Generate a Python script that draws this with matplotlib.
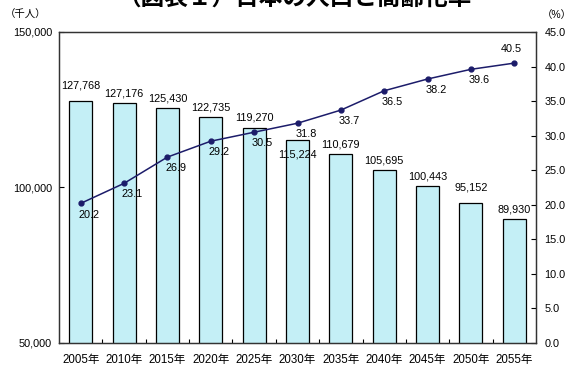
import matplotlib
matplotlib.use("Agg")
import matplotlib.pyplot as plt
import numpy as np
from matplotlib.ticker import FuncFormatter, FixedLocator

plt.rcParams['font.family'] = ['Liberation Sans', 'Noto Sans CJK JP', 'DejaVu Sans']

years = ["2005年", "2010年", "2015年", "2020年", "2025年", "2030年",
         "2035年", "2040年", "2045年", "2050年", "2055年"]
population = [127768, 127176, 125430, 122735, 119270, 115224,
              110679, 105695, 100443, 95152, 89930]
aging_rate = [20.2, 23.1, 26.9, 29.2, 30.5, 31.8, 33.7, 36.5, 38.2, 39.6, 40.5]

title = "（図表１）日本の人口と高齢化率"
left_unit = "（千人）"
right_unit = "（%）"

# label offsets (points) - styling only
bar_label_dy = [11, 7, 7, 7, 7, -10, 7, 7, 7, 11, 7]
line_label_off = [(6, -8)] * 10 + [(-2, 10)]

fig = plt.figure(figsize=(5.81, 3.65), dpi=100)
ax = fig.add_axes([59/581, 22/365, (536-59)/581, (343-32)/365])
x = np.arange(len(years))

bar_color = "#c4eff6"
line_color = "#1c1c6a"

ax.bar(x, population, width=0.53, color=bar_color, edgecolor="black", linewidth=0.9, zorder=2)
ax.set_xlim(-0.5, len(years) - 0.5)
ax.set_ylim(50000, 150000)
ax.set_yticks([50000, 100000, 150000])
ax.yaxis.set_major_formatter(FuncFormatter(lambda v, p: f"{int(v):,}"))
ax.set_xticks(x)
ax.set_xticklabels(years, fontsize=8.3)
ax.xaxis.set_minor_locator(FixedLocator(np.arange(0.5, len(years) - 1, 1.0)))
ax.tick_params(axis='x', which='major', length=0, pad=8)
ax.tick_params(axis='x', which='minor', direction='in', length=3, width=0.8)
ax.tick_params(axis='y', direction='in', length=3.5, width=0.8, labelsize=7.8, pad=5)

for xi, v, dy in zip(x, population, bar_label_dy):
    ax.annotate(f"{v:,}", (xi, v), xytext=(0, dy), textcoords='offset points',
                ha='center', va='center', fontsize=7.8, zorder=5)

for s in ax.spines.values():
    s.set_color("#333333")
    s.set_linewidth(0.9)

ax2 = ax.twinx()
ax2.plot(x, aging_rate, color=line_color, linewidth=1.1, marker='o', markersize=3.5,
         markerfacecolor=line_color, markeredgecolor=line_color, zorder=4)
ax2.set_ylim(0, 45)
ax2.set_yticks(np.arange(0, 46, 5))
ax2.yaxis.set_major_formatter(FuncFormatter(lambda v, p: f"{v:.1f}"))
ax2.tick_params(axis='y', direction='in', length=3.5, width=0.8, labelsize=7.8, pad=6)
for s in ax2.spines.values():
    s.set_color("#333333")
    s.set_linewidth(0.9)

for xi, v, off in zip(x, aging_rate, line_label_off):
    ax2.annotate(f"{v:.1f}", (xi, v), xytext=off, textcoords='offset points',
                 ha='center', va='center', fontsize=7.8, zorder=6)

fig.text(5/581, 1 - 15/365, left_unit, fontsize=7.5, ha='left', va='center')
fig.text(542/581, 1 - 15/365, right_unit, fontsize=7.5, ha='left', va='center')
fig.text(295/581, 1.006, title, fontsize=17, fontweight='bold', ha='center', va='center')

fig.savefig("out.png", dpi=100)
